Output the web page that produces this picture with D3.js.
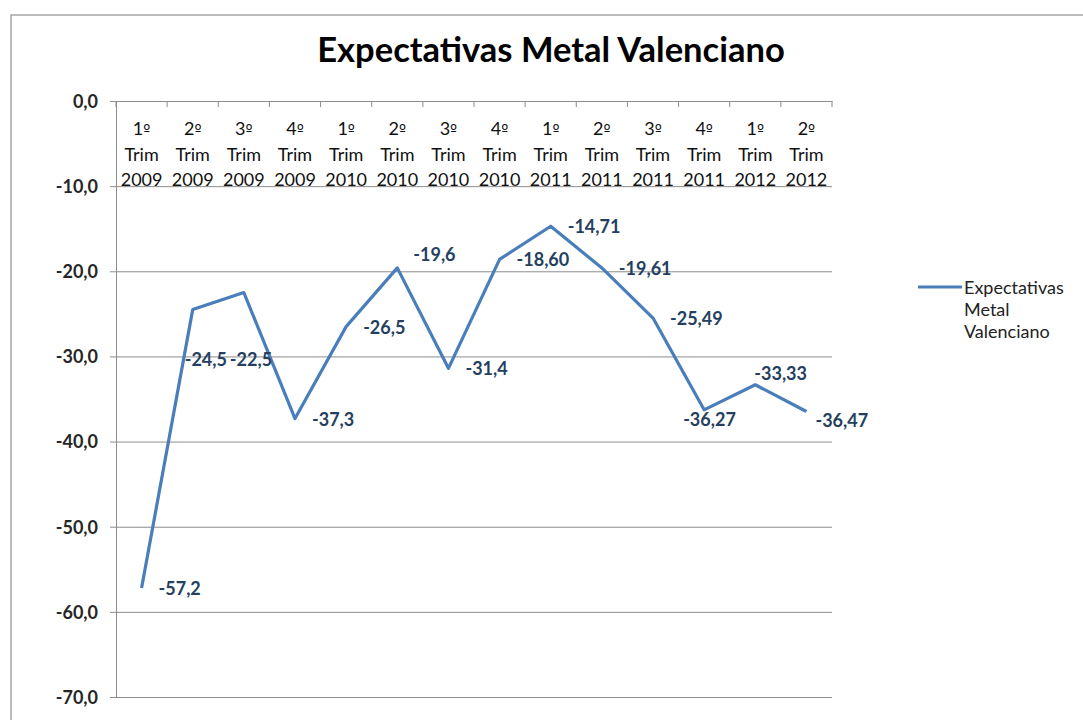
<!DOCTYPE html>
<html>
<head>
<meta charset="utf-8">
<script src="https://cdn.jsdelivr.net/npm/d3@7"></script>
<style>
  body { margin: 0; background: #fff; }
  svg text { font-family: Lato, "Open Sans", sans-serif; }
</style>
</head>
<body>
<svg id="chart" width="1083" height="720"></svg>
<script>
// data
const chartTitle = "Expectativas Metal Valenciano";
const seriesName = "Expectativas Metal Valenciano";
const categories = [
  "1º Trim 2009", "2º Trim 2009", "3º Trim 2009", "4º Trim 2009",
  "1º Trim 2010", "2º Trim 2010", "3º Trim 2010", "4º Trim 2010",
  "1º Trim 2011", "2º Trim 2011", "3º Trim 2011", "4º Trim 2011",
  "1º Trim 2012", "2º Trim 2012"
];
const values = [-57.2, -24.5, -22.5, -37.3, -26.5, -19.6, -31.4,
                -18.60, -14.71, -19.61, -25.49, -36.27, -33.33, -36.47];
const valueLabels = ["-57,2", "-24,5", "-22,5", "-37,3", "-26,5", "-19,6", "-31,4",
                     "-18,60", "-14,71", "-19,61", "-25,49", "-36,27", "-33,33", "-36,47"];
const yTicks = [0, -10, -20, -30, -40, -50, -60, -70];

const svg = d3.select("#chart");
const plot = {left: 116, right: 832, top: 101, bottom: 697};
const lineColor = "#4A7EBB";
const gridColor = "#8c8c8c";

// outer chart border (only left and top are visible in the crop)
svg.append("path")
  .attr("d", "M11,720 V15 H1083")
  .attr("fill", "none")
  .attr("stroke", "#a6a6a6")
  .attr("stroke-width", 1.5);

const x = d3.scaleBand().domain(categories).range([plot.left, plot.right]);
const y = d3.scaleLinear().domain([-70, 0]).range([plot.bottom, plot.top]);
const fmt = v => d3.format(".1f")(v).replace(".", ",").replace("−", "-");

// horizontal gridlines
svg.append("g")
  .attr("transform", "translate(" + plot.left + ",0)")
  .call(d3.axisLeft(y).tickValues(yTicks).tickSize(-(plot.right - plot.left)).tickFormat(""))
  .call(g => g.select(".domain").remove())
  .call(g => g.selectAll("line").attr("stroke", gridColor));

// y axis
svg.append("g")
  .attr("transform", "translate(" + plot.left + ",0)")
  .call(d3.axisLeft(y).tickValues(yTicks).tickSize(6).tickSizeOuter(0).tickPadding(12).tickFormat(fmt))
  .call(g => g.select(".domain").attr("stroke", gridColor))
  .call(g => g.selectAll("line").attr("stroke", gridColor))
  .call(g => g.selectAll("text")
    .attr("font-size", 18).attr("font-weight", "bold")
    .attr("fill", "#262626").attr("dy", "0.35em"));

// category axis sits on the 0 line, labels below it
const xAxis = svg.append("g")
  .attr("transform", "translate(0," + plot.top + ")")
  .call(d3.axisBottom(x).tickSize(0).tickSizeOuter(0))
  .call(g => g.select(".domain").attr("stroke", gridColor));

xAxis.selectAll(".tick text").each(function(d) {
  const t = d3.select(this).text(null)
    .attr("y", null).attr("dy", null)
    .attr("font-size", 18).attr("fill", "#111");
  d.split(" ").forEach((part, i) => {
    const ts = t.append("tspan").attr("x", 0).attr("y", 34 + i * 25.5);
    if (part.endsWith("º")) {
      // Lato's ordinal has no underline; DejaVu's looks like the original
      ts.text(part.slice(0, -1));
      ts.append("tspan").attr("font-family", "DejaVu Sans").attr("font-size", 15).text("º");
    } else {
      ts.text(part);
    }
  });
});

// tick marks between categories
const bounds = categories.map(c => x(c)).concat([plot.right]);
svg.append("g").selectAll("line")
  .data(bounds)
  .join("line")
  .attr("x1", d => d).attr("x2", d => d)
  .attr("y1", plot.top).attr("y2", plot.top + 6)
  .attr("stroke", gridColor);

// series line
const cx = i => x(categories[i]) + x.bandwidth() / 2;
const line = d3.line().x((d, i) => cx(i)).y(d => y(d));
svg.append("path")
  .datum(values)
  .attr("d", line)
  .attr("fill", "none")
  .attr("stroke", lineColor)
  .attr("stroke-width", 3.2)
  .attr("stroke-linejoin", "round");

// data labels, mostly to the right; a few were dragged around in the original
const labelNudge = {1: [-8, 56], 2: [-14, 73], 5: [16, -7], 11: [-21, 16], 12: [-1, -5], 13: [9, 15]};
svg.append("g").selectAll("text")
  .data(values)
  .join("text")
  .attr("x", (d, i) => cx(i) + (labelNudge[i] ? labelNudge[i][0] : 17))
  .attr("y", (d, i) => y(d) + (labelNudge[i] ? labelNudge[i][1] : 7))
  .attr("font-size", 18)
  .attr("font-weight", "bold")
  .attr("fill", "#243F60")
  .text((d, i) => valueLabels[i]);

// title
svg.append("text")
  .attr("x", 551).attr("y", 62)
  .attr("text-anchor", "middle")
  .attr("font-size", 34.5)
  .attr("font-weight", "bold")
  .attr("fill", "#000")
  .text(chartTitle);

// legend
const legend = svg.append("g").attr("transform", "translate(918,287)");
legend.append("line")
  .attr("x1", 0).attr("x2", 44).attr("y1", 0).attr("y2", 0)
  .attr("stroke", lineColor).attr("stroke-width", 3.2);
const lt = legend.append("text").attr("font-size", 18).attr("fill", "#222");
["Expectativas", "Metal", "Valenciano"].forEach((w, i) => {
  lt.append("tspan").attr("x", 46).attr("y", 7 + i * 22).text(w);
});
</script>
</body>
</html>
